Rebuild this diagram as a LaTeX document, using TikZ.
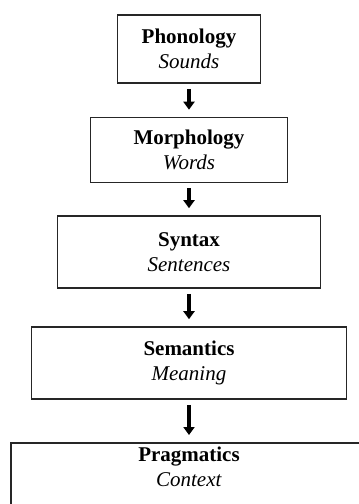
\documentclass[tikz,border=0pt]{standalone}
\usepackage{fontspec}
\setmainfont{Liberation Serif}
\usetikzlibrary{arrows.meta}

\tikzset{
  level/.style={draw=black!85, line width=1.6pt, align=center, inner sep=0pt},
  flow/.style={line width=3.4pt, -{Triangle[width=11pt,length=8pt]},
    shorten <=5pt, shorten >=7pt}
}

\begin{document}
\begin{tikzpicture}[x=1pt, y=-1pt, font=\fontsize{21}{25}\selectfont]

        \useasboundingbox (0,0) rectangle (359,504);

        % Levels, top to bottom
        \node[level, minimum width=143, minimum height=68] (phon) at (189,49)
            {\textbf{Phonology}\\\textit{Sounds}};
        \node[level, minimum width=197, minimum height=65] (morph) at (189,150)
            {\textbf{Morphology}\\\textit{Words}};
        \node[level, minimum width=263, minimum height=72] (syn) at (189,252)
            {\textbf{Syntax}\\\textit{Sentences}};
        \node[level, minimum width=315, minimum height=72] (sem) at (189,363)
            {\textbf{Semantics}\\\textit{Meaning}};

        % Last level runs past the page edge
        \node[level, minimum width=356, minimum height=90, anchor=north] (prag) at (189,442) {};
        \node[align=center] (pragtext) at (189,467) {\textbf{Pragmatics}\\\textit{Context}};

        % Arrows between levels
        \draw[flow] (phon.south) -- (morph.north);
        \draw[flow] (morph.south) -- (syn.north);
        \draw[flow] (syn.south) -- (sem.north);
        \draw[flow] (sem.south) -- (prag.north);

    \end{tikzpicture}
\end{document}
